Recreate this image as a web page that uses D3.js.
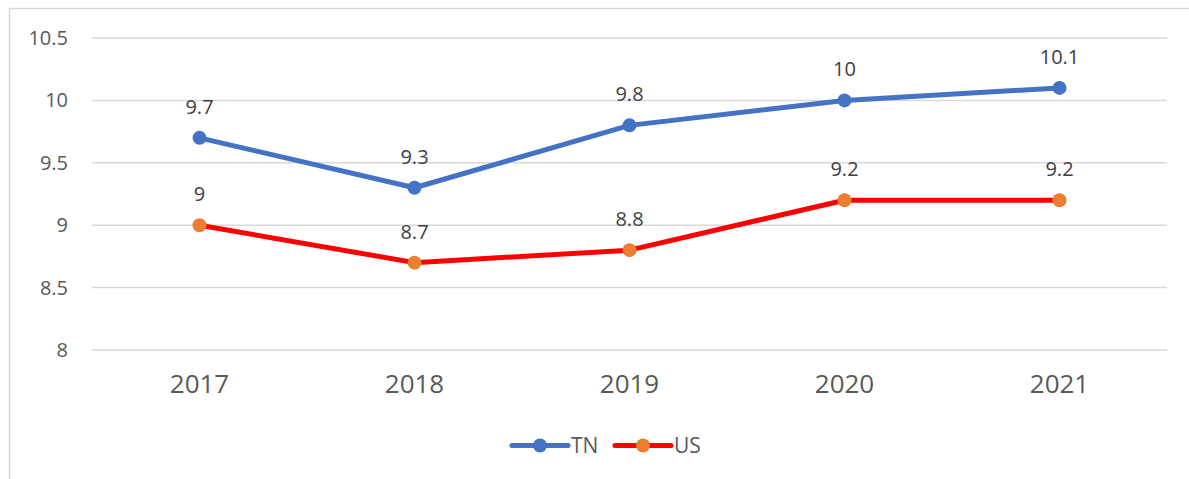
<!DOCTYPE html>
<html>
<head>
<meta charset="utf-8">
<script src="https://cdn.jsdelivr.net/npm/d3@7"></script>
<style>
  body { margin: 0; background: #fff; }
  text { font-family: "Open Sans", sans-serif; }
</style>
</head>
<body>
<div id="chart"></div>
<script>
// data
var years = ["2017", "2018", "2019", "2020", "2021"];
var tnValues = [9.7, 9.3, 9.8, 10, 10.1];
var usValues = [9, 8.7, 8.8, 9.2, 9.2];
var yTicks = [8, 8.5, 9, 9.5, 10, 10.5];

var svgWidth = 1189;
var svgHeight = 479;

var margin = { top: 38, right: 22, bottom: 129, left: 92 };
var width = svgWidth - margin.left - margin.right;
var height = svgHeight - margin.top - margin.bottom;

var svg = d3.select("#chart")
    .append("svg")
    .attr("width", svgWidth)
    .attr("height", svgHeight);

// outer chart border (only left and top edges are visible)
svg.append("path")
    .attr("d", "M9.5,479 V8.5 H1189")
    .attr("fill", "none")
    .attr("stroke", "#d9d9d9")
    .attr("stroke-width", 1.5);

var chartGroup = svg.append("g")
    .attr("transform", `translate(${margin.left}, ${margin.top})`);

var xScale = d3.scaleBand()
    .domain(years)
    .range([0, width]);

var yScale = d3.scaleLinear()
    .domain([8, 10.5])
    .range([height, 0]);

// gridlines
chartGroup.selectAll(".grid")
    .data(yTicks)
    .enter()
    .append("line")
    .attr("x1", 0)
    .attr("x2", width)
    .attr("y1", d => yScale(d))
    .attr("y2", d => yScale(d))
    .attr("stroke", "#d9d9d9")
    .attr("stroke-width", 1.5);

// y axis labels
var leftAxis = d3.axisLeft(yScale)
    .tickValues(yTicks)
    .tickFormat(d => String(d))
    .tickSize(0)
    .tickPadding(24);
var yAxis = chartGroup.append("g").call(leftAxis);
yAxis.select(".domain").remove();
yAxis.selectAll("text")
    .attr("fill", "#595959")
    .style("font-size", "20px")
    .style("font-family", "'Open Sans', sans-serif");

// x axis labels
var bottomAxis = d3.axisBottom(xScale).tickSize(0).tickPadding(25);
var xAxis = chartGroup.append("g")
    .attr("transform", `translate(0, ${height})`)
    .call(bottomAxis);
xAxis.select(".domain").remove();
xAxis.selectAll("text")
    .attr("fill", "#595959")
    .style("font-size", "26px")
    .style("font-family", "'Open Sans', sans-serif");

var xPos = d => xScale(d) + xScale.bandwidth() / 2;

var series = [
    { name: "TN", values: tnValues, line: "#4472C4", marker: "#4472C4" },
    { name: "US", values: usValues, line: "#FF0000", marker: "#ED7D31" }
];

var line = d3.line()
    .x((d, i) => xPos(years[i]))
    .y(d => yScale(d));

series.forEach(function(s) {
    chartGroup.append("path")
        .datum(s.values)
        .attr("d", line)
        .attr("fill", "none")
        .attr("stroke", s.line)
        .attr("stroke-width", 5)
        .attr("stroke-linejoin", "round")
        .attr("stroke-linecap", "round");

    chartGroup.selectAll(".pt-" + s.name)
        .data(s.values)
        .enter()
        .append("circle")
        .attr("cx", (d, i) => xPos(years[i]))
        .attr("cy", d => yScale(d))
        .attr("r", 7)
        .attr("fill", s.marker);

    chartGroup.selectAll(".lbl-" + s.name)
        .data(s.values)
        .enter()
        .append("text")
        .attr("x", (d, i) => xPos(years[i]))
        .attr("y", d => yScale(d) - 24)
        .attr("text-anchor", "middle")
        .attr("fill", "#404040")
        .style("font-size", "20px")
        .text(d => d);
});

// legend
var legend = svg.append("g").attr("transform", "translate(0, 445.5)");
var legendX = [512, 615];
series.forEach(function(s, i) {
    var g = legend.append("g").attr("transform", `translate(${legendX[i]}, 0)`);
    g.append("line")
        .attr("x1", 0).attr("x2", 56)
        .attr("stroke", s.line)
        .attr("stroke-width", 5)
        .attr("stroke-linecap", "round");
    g.append("circle")
        .attr("cx", 28)
        .attr("r", 7)
        .attr("fill", s.marker);
    g.append("text")
        .attr("x", 59)
        .attr("dy", "0.35em")
        .attr("fill", "#595959")
        .style("font-size", "21px")
        .text(s.name);
});
</script>
</body>
</html>
